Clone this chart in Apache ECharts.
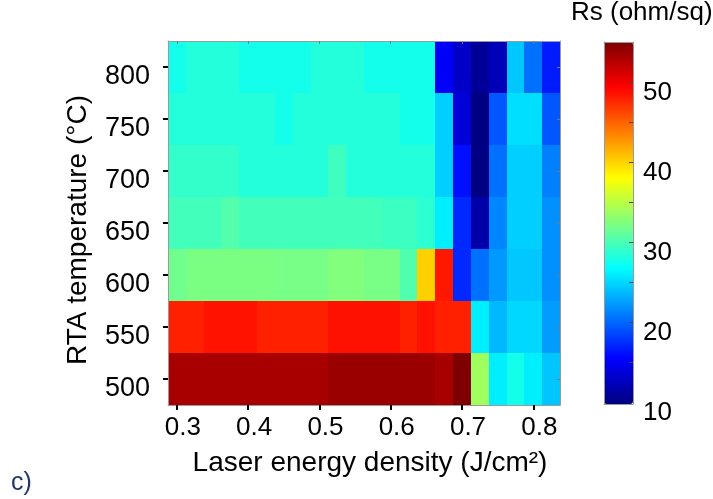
<!DOCTYPE html>
<html>
<head>
<meta charset="utf-8">
<script src="https://cdn.jsdelivr.net/npm/echarts@6/dist/echarts.min.js"></script>
<style>
html,body{margin:0;padding:0;background:#fff;}
#chart{width:713px;height:499px;}
</style>
</head>
<body>
<div id="chart"></div>
<script>
// Laser energy density (J/cm²), centre of each column
const energy = [0.300,0.325,0.350,0.375,0.400,0.425,0.450,0.475,0.500,0.525,0.550,0.575,0.600,0.625,0.650,0.675,0.700,0.725,0.750,0.775,0.800,0.825];
// RTA temperature (°C), centre of each row
const temps = [500,550,600,650,700,750,800];
// Sheet resistance Rs (ohm/sq) per row
const rs500 = [53.2,53.2,53.2,53.2,53.2,53.2,53.2,53.2,53.2,53.8,53.8,53.8,53.8,53.8,53.8,53.2,55.0,33.8,26.0,27.6,26.0,24.2];
const rs550 = [47.9,47.9,48.5,48.5,48.5,47.9,47.9,47.9,47.9,48.6,48.6,48.6,48.6,47.9,48.6,47.9,47.9,26.0,23.6,25.0,25.0,22.4];
const rs600 = [31.7,32.2,32.2,32.2,32.2,32.2,32.0,32.0,32.0,32.5,32.5,32.1,32.1,30.3,40.1,48.3,17.2,20.4,22.2,24.3,24.3,21.8];
const rs650 = [29.7,29.7,29.7,30.4,29.7,29.7,29.7,29.7,29.7,29.7,29.7,29.7,29.4,29.4,28.7,26.0,17.2,11.6,21.4,24.6,24.6,21.8];
const rs700 = [29.0,29.0,29.0,29.0,28.3,28.3,28.3,28.3,28.3,29.5,28.3,28.3,28.3,28.3,28.3,24.6,16.1,9.9,20.4,24.6,24.6,21.1];
const rs750 = [28.3,28.3,28.3,28.3,28.3,28.3,27.6,28.3,28.3,28.3,28.3,28.3,28.3,27.6,27.6,24.6,13.7,9.9,19.3,25.3,25.3,19.3];
const rs800 = [27.6,28.3,28.3,28.3,27.6,27.6,27.6,27.6,28.3,28.3,28.3,27.6,27.6,27.6,27.6,15.1,13.0,10.9,12.3,24.3,20.4,16.6];
// Tick labels
const xTicks = [0.3,0.4,0.5,0.6,0.7,0.8];
const yTicks = [500,550,600,650,700,750,800];
const cbLabels = [10,20,30,40,50];
const cbTicks = [15,20,25,30,35,40,45,50];
const cbMin = 9.75, cbMax = 55;

const rows = [rs500, rs550, rs600, rs650, rs700, rs750, rs800];
const colHalf = (energy[1] - energy[0]) / 2;
const rowHalf = (temps[1] - temps[0]) / 2;
const data = [];
rows.forEach((vals, r) => vals.forEach((v, c) => data.push([energy[c], temps[r], v])));

const jet = ['#00007f','#0000ff','#007fff','#00ffff','#7fff7f','#ffff00','#ff7f00','#ff0000','#7f0000'];
const FONT = 'Liberation Sans, Arial, Helvetica, sans-serif';
const frame = '#9a9a9a';

const chart = echarts.init(document.getElementById('chart'), null, {renderer: 'canvas'});
chart.setOption({
  animation: false,
  backgroundColor: '#ffffff',
  textStyle: {fontFamily: FONT},
  title: [
    {text: 'Rs (ohm/sq)', left: 571, top: 0, padding: 0,
     textStyle: {fontSize: 26, fontWeight: 'normal', color: '#000', fontFamily: FONT}},
    {text: 'c)', left: 11, top: 471, padding: 0,
     textStyle: {fontSize: 25, fontWeight: 'normal', color: '#1f3864', fontFamily: FONT}}
  ],
  grid: [
    {left: 168, top: 41, width: 392, height: 364, containLabel: false},
    {left: 604, top: 42, width: 29, height: 362, containLabel: false}
  ],
  xAxis: [
    {type: 'value', gridIndex: 0, position: 'bottom', min: 0.2875, max: 0.8375, z: 10,
     axisLine: {show: true, onZero: false, lineStyle: {color: frame, width: 1}},
     axisTick: {show: true, inside: false, length: 5, customValues: xTicks, lineStyle: {color: '#000', width: 2}},
     axisLabel: {show: true, customValues: xTicks, margin: 10,
       formatter: v => '{a|' + v + '}',
       rich: {a: {fontSize: 26, color: '#000', padding: [0, 0, 0, 12], fontFamily: FONT}}},
     splitLine: {show: false},
     name: '{t|Laser energy density (J/cm²)}', nameLocation: 'middle', nameGap: 44,
     nameTextStyle: {fontSize: 28, color: '#000', fontFamily: FONT,
       rich: {t: {fontSize: 28, color: '#000', fontFamily: FONT, padding: [0, 0, 0, 12]}}}},
    {type: 'value', gridIndex: 0, position: 'top', min: 0.2875, max: 0.8375, z: 10,
     axisLine: {show: true, onZero: false, lineStyle: {color: frame, width: 1}},
     axisTick: {show: true, inside: true, length: 3, customValues: xTicks, lineStyle: {color: '#777', width: 1}},
     axisLabel: {show: false}, splitLine: {show: false}},
    {type: 'value', gridIndex: 1, position: 'bottom', min: 0, max: 1, z: 10,
     axisLine: {show: true, onZero: false, lineStyle: {color: frame}},
     axisTick: {show: false}, axisLabel: {show: false}, splitLine: {show: false}},
    {type: 'value', gridIndex: 1, position: 'top', min: 0, max: 1, z: 10,
     axisLine: {show: true, onZero: false, lineStyle: {color: frame}},
     axisTick: {show: false}, axisLabel: {show: false}, splitLine: {show: false}}
  ],
  yAxis: [
    {type: 'value', gridIndex: 0, position: 'left', min: 475, max: 825, z: 10,
     axisLine: {show: true, onZero: false, lineStyle: {color: frame, width: 1}},
     axisTick: {show: true, inside: false, length: 5, customValues: yTicks, lineStyle: {color: '#000', width: 2}},
     axisLabel: {show: true, customValues: yTicks, margin: 18,
       formatter: v => '{a|' + v + '}',
       rich: {a: {fontSize: 27, color: '#000', padding: [20, 0, 0, 0], fontFamily: FONT}}},
     splitLine: {show: false},
     name: '{t|RTA temperature (°C)}', nameLocation: 'middle', nameGap: 76,
     nameTextStyle: {fontSize: 28, color: '#000', fontFamily: FONT,
       rich: {t: {fontSize: 28, color: '#000', fontFamily: FONT, padding: [0, 14, 0, 0]}}}},
    {type: 'value', gridIndex: 0, position: 'right', min: 475, max: 825, z: 10,
     axisLine: {show: true, onZero: false, lineStyle: {color: frame, width: 1}},
     axisTick: {show: true, inside: true, length: 3, customValues: yTicks, lineStyle: {color: '#777', width: 1}},
     axisLabel: {show: false}, splitLine: {show: false}},
    {type: 'value', gridIndex: 1, position: 'left', min: cbMin, max: cbMax, z: 10,
     axisLine: {show: true, onZero: false, lineStyle: {color: frame}},
     axisTick: {show: false}, axisLabel: {show: false}, splitLine: {show: false}},
    {type: 'value', gridIndex: 1, position: 'right', min: cbMin, max: cbMax, z: 10,
     axisLine: {show: true, onZero: false, lineStyle: {color: frame}},
     axisTick: {show: true, inside: true, length: 4, customValues: cbTicks, lineStyle: {color: '#444', width: 1}},
     axisLabel: {show: true, customValues: cbLabels, margin: 10,
       formatter: v => '{a|' + v + '}',
       rich: {a: {fontSize: 26, color: '#000', padding: [21, 0, 0, 0], fontFamily: FONT}}},
     splitLine: {show: false}}
  ],
  visualMap: {
    type: 'continuous', min: cbMin, max: cbMax, dimension: 2, seriesIndex: 0,
    calculable: false, orient: 'vertical', left: 604, top: 42, padding: 0,
    itemWidth: 29, itemHeight: 362, showLabel: false, text: null,
    inRange: {color: jet}, hoverLink: false
  },
  series: [{
    type: 'custom',
    xAxisIndex: 0, yAxisIndex: 0,
    data: data,
    encode: {x: 0, y: 1},
    renderItem: function (params, api) {
      const x = api.value(0), y = api.value(1);
      const a = api.coord([x - colHalf, y + rowHalf]);
      const b = api.coord([x + colHalf, y - rowHalf]);
      const x0 = Math.round(a[0]), y0 = Math.round(a[1]);
      const x1 = Math.round(b[0]), y1 = Math.round(b[1]);
      return {
        type: 'rect',
        shape: {x: x0, y: y0, width: x1 - x0, height: y1 - y0},
        style: {fill: api.visual('color')}
      };
    }
  }]
});
</script>
</body>
</html>
